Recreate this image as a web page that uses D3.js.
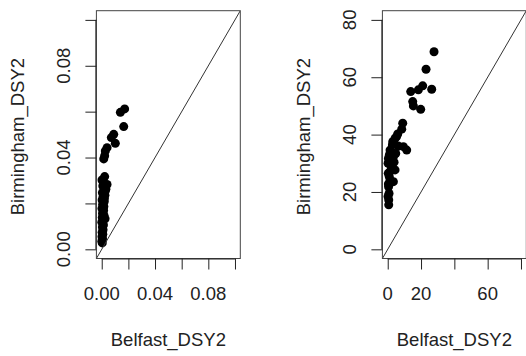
<!DOCTYPE html>
<html>
<head>
<meta charset="utf-8">
<script src="https://cdn.jsdelivr.net/npm/d3@7"></script>
<style>
  html, body { margin: 0; padding: 0; background: #fff; }
  svg { display: block; font-family: "Liberation Sans", Arial, sans-serif; }
</style>
</head>
<body>
<div id="chart"></div>
<script>
// ─── Data ───
const xLabel = "Belfast_DSY2";
const yLabel = "Birmingham_DSY2";

// left panel: proportions
const leftBelfast = [
  0.0172, 0.0140, 0.0165, 0.0090, 0.0072, 0.0102, 0.0040, 0.0027, 0.0022, 0.0015,
  0.0022, 0.0002, 0.0040, 0.0012, 0.0030, 0.0008, 0.0026, 0.0005, 0.0024, 0.0010,
  0.0003, 0.0019, 0.0007, 0.0016, 0.0002, 0.0014, 0.0006, 0.0017, 0.0004, 0.0011,
  0.0001, 0.0013, 0.0005, 0.0010, 0.0003, 0.0008, 0.0002, 0.0006, 0.0001, 0.0004,
  0.0031, 0.0020, 0.0012, 0.0025
];
const leftBirmingham = [
  0.0612, 0.0597, 0.0535, 0.0501, 0.0487, 0.0462, 0.0443, 0.0429, 0.0408, 0.0394,
  0.0317, 0.0302, 0.0283, 0.0291, 0.0268, 0.0276, 0.0254, 0.0247, 0.0236, 0.0229,
  0.0215, 0.0208, 0.0196, 0.0187, 0.0178, 0.0169, 0.0157, 0.0148, 0.0139, 0.0127,
  0.0118, 0.0106, 0.0097, 0.0085, 0.0074, 0.0066, 0.0055, 0.0046, 0.0035, 0.0028,
  0.0262, 0.0221, 0.0182, 0.0133
];

// right panel: counts
const rightBelfast = [
  27.8, 23.0, 26.4, 21.0, 18.4, 13.8, 15.0, 15.4, 19.8, 9.0,
  8.4, 4.4, 3.0, 6.4, 11.4, 9.4, 1.4, 0.4, 3.4, 0.2,
  2.4, 4.4, 0.3, 1.4, 3.4, 0.5, 0.2, 0.6, 0.8, 2.0,
  1.0, 5.2, 2.8, 0.9, 1.8, 0.4, 6.0, 3.8, 1.2, 2.2,
  0.6, 4.8
];
const rightBirmingham = [
  68.9, 62.8, 55.8, 57.0, 55.6, 55.0, 51.5, 50.0, 48.8, 44.0,
  41.9, 38.7, 37.5, 36.0, 34.6, 35.8, 34.6, 31.7, 32.3, 30.0,
  28.3, 27.7, 26.5, 24.2, 23.6, 21.8, 18.4, 15.5, 19.5, 29.2,
  33.0, 39.2, 36.4, 25.4, 31.0, 22.8, 40.2, 30.4, 27.0, 34.0,
  17.2, 33.4
];

const leftTicks = [0, 0.02, 0.04, 0.06, 0.08, 0.1];
const leftTickLabels = ["0.00", "", "0.04", "", "0.08", ""];
const leftYTickLabels = ["0.00", "", "0.04", "", "0.08", ""];
const rightTicks = [0, 20, 40, 60, 80];
const rightXTickLabels = ["0", "20", "", "60", ""];
const rightYTickLabels = ["0", "20", "40", "60", "80"];

// ─── Layout ───
const W = 526, H = 356;
const FONT = 18.5;
const INK = "#222";

const panels = [
  {
    xs: leftBelfast, ys: leftBirmingham, lim: [0, 0.1],
    box: { left: 96.4, right: 240.3, top: 10.7, bottom: 258.5 },
    ticks: leftTicks, xTickLabels: leftTickLabels, yTickLabels: leftYTickLabels,
  },
  {
    xs: rightBelfast, ys: rightBirmingham, lim: [0, 80],
    box: { left: 382.4, right: 526.3, top: 10.7, bottom: 258.5 },
    ticks: rightTicks, xTickLabels: rightXTickLabels, yTickLabels: rightYTickLabels,
  },
];

const svg = d3.select("#chart").append("svg")
  .attr("width", W).attr("height", H)
  .attr("viewBox", `0 0 ${W} ${H}`);

panels.forEach((p, pi) => {
  const b = p.box;
  const pad = 0.04 * (p.lim[1] - p.lim[0]);   // R's default 4% axis padding
  const dom = [p.lim[0] - pad, p.lim[1] + pad];
  const x = d3.scaleLinear().domain(dom).range([b.left, b.right]);
  const y = d3.scaleLinear().domain(dom).range([b.bottom, b.top]);

  const clipId = `clip${pi}`;
  svg.append("clipPath").attr("id", clipId)
    .append("rect")
    .attr("x", b.left).attr("y", b.top)
    .attr("width", b.right - b.left).attr("height", b.bottom - b.top);

  // points
  svg.append("g")
    .selectAll("circle")
    .data(p.xs.map((v, i) => [v, p.ys[i]]))
    .join("circle")
    .attr("cx", (d) => x(d[0]))
    .attr("cy", (d) => y(d[1]))
    .attr("r", 4.5)
    .attr("fill", "#000");

  // y = x line
  svg.append("line")
    .attr("clip-path", `url(#${clipId})`)
    .attr("x1", x(dom[0])).attr("y1", y(dom[0]))
    .attr("x2", x(dom[1])).attr("y2", y(dom[1]))
    .attr("stroke", "#333").attr("stroke-width", 1);

  // box
  svg.append("rect")
    .attr("x", b.left).attr("y", b.top)
    .attr("width", b.right - b.left).attr("height", b.bottom - b.top)
    .attr("fill", "none").attr("stroke", "#444").attr("stroke-width", 1);

  // x axis
  const gx = svg.append("g")
    .attr("transform", `translate(0,${b.bottom})`)
    .call(d3.axisBottom(x).tickValues(p.ticks).tickSize(11).tickFormat(""));
  gx.select(".domain").attr("d", `M${x(p.ticks[0])},0.5H${x(p.ticks[p.ticks.length - 1])}`);
  gx.selectAll("line, path").attr("stroke", INK);
  svg.append("g").selectAll("text")
    .data(p.ticks)
    .join("text")
    .attr("x", (d) => x(d))
    .attr("y", 300)
    .attr("text-anchor", "middle")
    .attr("font-size", FONT)
    .attr("fill", INK)
    .text((d, i) => p.xTickLabels[i]);

  // y axis
  const gy = svg.append("g")
    .attr("transform", `translate(${b.left},0)`)
    .call(d3.axisLeft(y).tickValues(p.ticks).tickSize(11).tickFormat(""));
  gy.select(".domain").attr("d", `M-0.5,${y(p.ticks[0])}V${y(p.ticks[p.ticks.length - 1])}`);
  gy.selectAll("line, path").attr("stroke", INK);
  svg.append("g").selectAll("text")
    .data(p.ticks)
    .join("text")
    .attr("transform", (d) => `translate(${b.left - 26},${y(d)}) rotate(-90)`)
    .attr("text-anchor", "middle")
    .attr("font-size", FONT)
    .attr("fill", INK)
    .text((d, i) => p.yTickLabels[i]);

  // axis titles
  const cx = (b.left + b.right) / 2;
  const cy = (b.top + b.bottom) / 2;
  svg.append("text")
    .attr("x", cx).attr("y", 346)
    .attr("text-anchor", "middle")
    .attr("font-size", FONT)
    .attr("fill", INK)
    .text(xLabel);
  svg.append("text")
    .attr("transform", `translate(${b.left - 72.4},${cy + 2}) rotate(-90)`)
    .attr("text-anchor", "middle")
    .attr("font-size", FONT)
    .attr("fill", INK)
    .text(yLabel);
});
</script>
</body>
</html>
